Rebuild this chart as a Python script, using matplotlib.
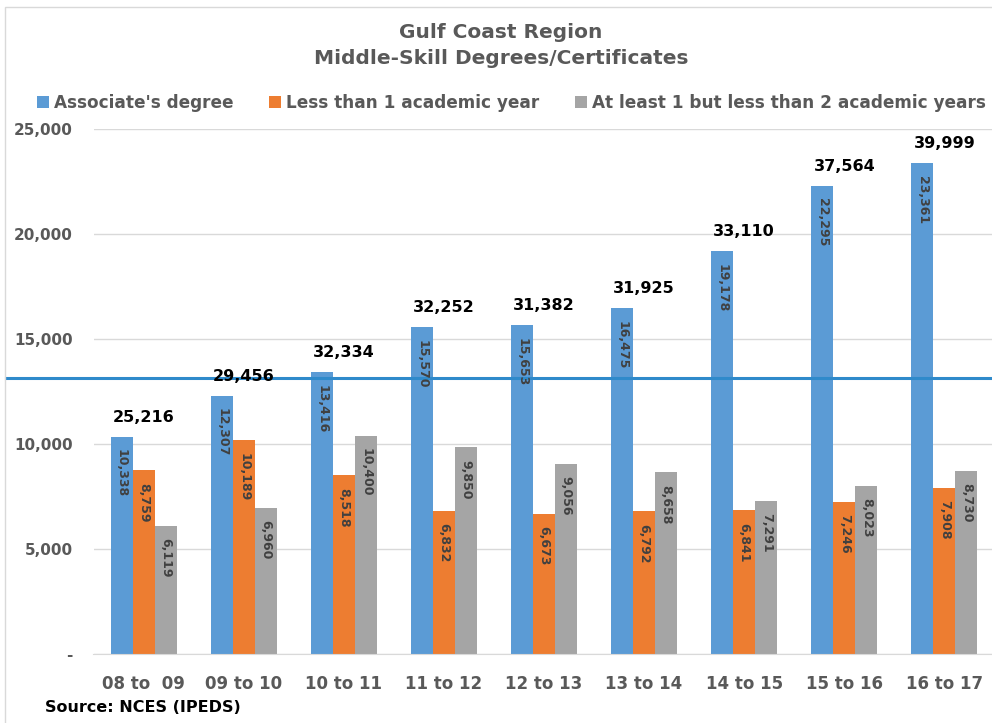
import matplotlib
matplotlib.use("Agg")
import matplotlib.pyplot as plt
import matplotlib.transforms as mtransforms
from matplotlib.patches import Rectangle
import numpy as np

# ─────────────── data ───────────────
years      = ["08 to  09", "09 to 10", "10 to 11", "11 to 12", "12 to 13",
              "13 to 14", "14 to 15", "15 to 16", "16 to 17"]
associate  = [10338, 12307, 13416, 15570, 15653, 16475, 19178, 22295, 23361]
less_1yr   = [8759, 10189, 8518, 6832, 6673, 6792, 6841, 7246, 7908]
one_to_2yr = [6119, 6960, 10400, 9850, 9056, 8658, 7291, 8023, 8730]
totals     = [25216, 29456, 32334, 32252, 31382, 31925, 33110, 37564, 39999]
ref_level  = 13150      # blue reference line
series_names = ["Associate's degree", "Less than 1 academic year",
                "At least 1 but less than 2 academic years"]

# ─────────────── style ───────────────
BLUE, ORANGE, GRAY = "#5B9BD5", "#ED7D31", "#A5A5A5"
TXT = "#595959"
LBL = "#404040"
plt.rcParams["font.family"] = ["DejaVu Sans"]
plt.rcParams["font.weight"] = "bold"

fig = plt.figure(figsize=(9.92, 7.23), dpi=100)
ax = fig.add_axes([93.5 / 992, 1 - 654 / 723, 901 / 992, 525 / 723])

x = np.arange(len(years))
w = 0.22
series = [associate, less_1yr, one_to_2yr]
colors = [BLUE, ORANGE, GRAY]
for k, (vals, col, name) in enumerate(zip(series, colors, series_names)):
    xs = x + (k - 1) * w
    ax.bar(xs, vals, w, color=col, label=name, zorder=2)
    for xi, v in zip(xs, vals):
        ax.annotate(f"{v:,}", (xi, v), xytext=(0, -9), textcoords="offset points",
                    ha="center", va="top", rotation=270, fontsize=9,
                    color=LBL, fontweight="bold", zorder=4)

# totals above each group
for xi, b, t in zip(x, associate, totals):
    ax.annotate(f"{t:,}", (xi, b), xytext=(0, 14), textcoords="offset points",
                ha="center", va="center", fontsize=11.5, color="black",
                fontweight="bold", zorder=5)

ax.set_xlim(-0.5, len(years) - 0.5)
ax.set_ylim(0, 25000)
ax.set_yticks(range(0, 25001, 5000))
ax.set_yticklabels(["-" if v == 0 else f"{v:,}" for v in range(0, 25001, 5000)])
ax.set_xticks(x)
ax.set_xticklabels(years)
ax.tick_params(axis="y", length=0, pad=15, labelsize=11, labelcolor=TXT)
ax.tick_params(axis="x", length=0, pad=15, labelsize=12, labelcolor=TXT)
ax.grid(axis="y", color="#D9D9D9", linewidth=1, zorder=0)
for s in ["top", "right", "left"]:
    ax.spines[s].set_visible(False)
ax.spines["bottom"].set_color("#D9D9D9")
ax.set_axisbelow(True)

# reference line across whole chart width
trans = mtransforms.blended_transform_factory(fig.transFigure, ax.transData)
ax.plot([6 / 992, 1.0], [ref_level, ref_level], transform=trans, color="#2F8ACB",
        linewidth=2.2, clip_on=False, zorder=3)

# chart border (left/top visible)
fig.patches.append(Rectangle((5 / 992, -0.1), 1.2, 1 - 7 / 723 + 0.1,
                             transform=fig.transFigure, fill=False,
                             edgecolor="#D9D9D9", linewidth=1))

fig.text(0.505, 1 - 33 / 723, "Gulf Coast Region", ha="center", va="center",
         fontsize=14.5, color=TXT, fontweight="bold")
fig.text(0.505, 1 - 59 / 723, "Middle-Skill Degrees/Certificates", ha="center",
         va="center", fontsize=14.5, color=TXT, fontweight="bold")

fig.legend(loc="center", bbox_to_anchor=(0.5156, 1 - 103 / 723), ncol=3,
           frameon=False, fontsize=12.2, labelcolor=TXT, handlelength=0.7,
           handleheight=0.7, handletextpad=0.3, columnspacing=2.1)

fig.text(45 / 992, 1 - 708 / 723, "Source: NCES (IPEDS)", ha="left", va="center",
         fontsize=11.5, color="black", fontweight="bold")

fig.savefig("out.png", dpi=100)
